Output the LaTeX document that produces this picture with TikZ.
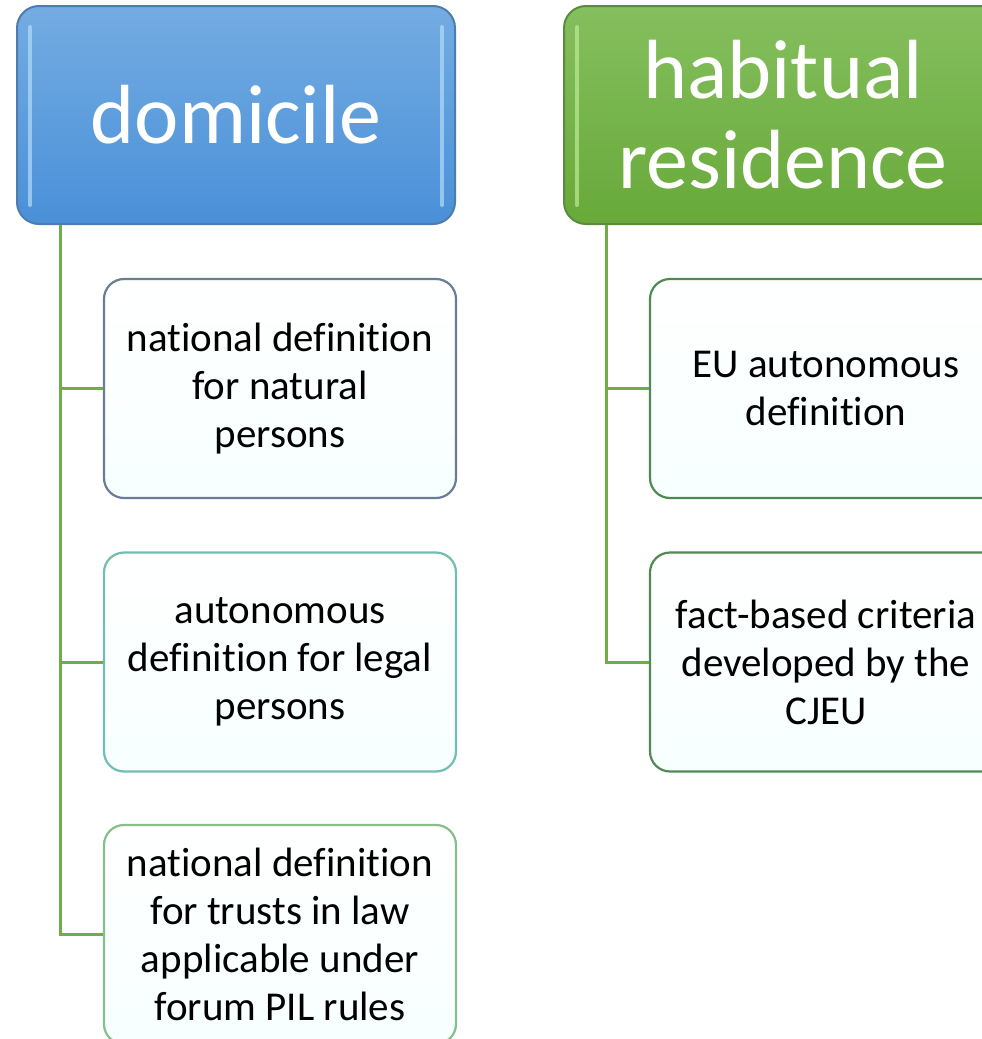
\documentclass[tikz,border=0pt]{standalone}
\usepackage{fontspec}
\setmainfont{Carlito}[Ligatures=NoCommon]
\usetikzlibrary{calc}
\definecolor{blueTop}{HTML}{74ACE2}
\definecolor{blueBot}{HTML}{4A90D8}
\definecolor{blueEdge}{HTML}{4D7DAE}
\definecolor{blueGloss}{HTML}{B4DCF8}
\definecolor{greenTop}{HTML}{85BF5E}
\definecolor{greenBot}{HTML}{68A93A}
\definecolor{greenEdge}{HTML}{5A8C3C}
\definecolor{greenGloss}{HTML}{BDEB95}
\definecolor{connGreen}{HTML}{70AD47}
\definecolor{edgeSlate}{HTML}{6A7D96}
\definecolor{edgeTeal}{HTML}{72BDB3}
\definecolor{edgeMint}{HTML}{86BF8A}
\definecolor{edgeForest}{HTML}{4F8A55}
\tikzset{
  header/.style={rectangle, rounded corners=22pt, minimum width=438pt,
    minimum height=218pt, line width=2pt, text=white, align=center,
    font=\fontsize{84}{90}\selectfont, inner sep=0pt},
  bluehead/.style={header, draw=blueEdge, top color=blueTop, bottom color=blueBot},
  greenhead/.style={header, draw=greenEdge, top color=greenTop, bottom color=greenBot},
  item/.style={rectangle, rounded corners=20pt, minimum width=352pt,
    minimum height=219pt, line width=2.2pt, text=black, align=center,
    font=\fontsize{41}{48}\selectfont, inner sep=0pt,
    top color=white, bottom color=white!97!cyan},
  conn/.style={draw=connGreen, line width=3pt},
  gloss/.style={line width=4pt, line cap=round, opacity=0.7}
}
\begin{document}
\begin{tikzpicture}[x=1pt, y=-1pt]
  \useasboundingbox (0,0) rectangle (982,1039);
  \clip (0,0) rectangle (982,1039);

  % column heads
  \node[bluehead] (dom) at (236,115) {domicile};
  \node[greenhead] (hab) at (783,115) {habitual\\residence};

  % glossy side highlights on the heads
  \draw[gloss, blueGloss] ([shift={(14pt,-22pt)}]dom.north west) -- ([shift={(14pt,20pt)}]dom.south west);
  \draw[gloss, blueGloss] ([shift={(-14pt,-22pt)}]dom.north east) -- ([shift={(-14pt,20pt)}]dom.south east);
  \draw[gloss, greenGloss] ([shift={(14pt,-22pt)}]hab.north west) -- ([shift={(14pt,20pt)}]hab.south west);

  % domicile items
  \node[item, draw=edgeSlate] (d1) at (280,388.5) {national definition\\for natural\\persons};
  \node[item, draw=edgeTeal] (d2) at (280,662) {autonomous\\definition for legal\\persons};
  \node[item, draw=edgeMint] (d3) at (280,934.5) {national definition\\for trusts in law\\applicable under\\forum PIL rules};

  % habitual residence items
  \node[item, draw=edgeForest] (h1) at (826,388.5) {EU autonomous\\definition};
  \node[item, draw=edgeForest] (h2) at (826,662) {fact-based criteria\\developed by the\\CJEU};

  % tree connectors
  \coordinate (domroot) at ([xshift=44pt]dom.south west);
  \coordinate (habroot) at ([xshift=43pt]hab.south west);
  \draw[conn] (domroot) |- (d1.west);
  \draw[conn] (domroot) |- (d2.west);
  \draw[conn] (domroot) |- (d3.west);
  \draw[conn] (habroot) |- (h1.west);
  \draw[conn] (habroot) |- (h2.west);
\end{tikzpicture}
\end{document}
